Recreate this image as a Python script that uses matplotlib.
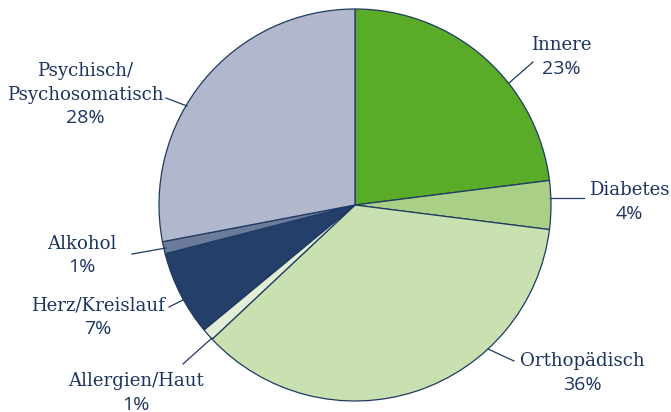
import matplotlib
matplotlib.use("Agg")
import matplotlib.pyplot as plt

categories = ["Innere", "Diabetes", "Orthopädisch", "Allergien/Haut",
              "Herz/Kreislauf", "Alkohol", "Psychisch/\nPsychosomatisch"]
values = [23, 4, 36, 1, 7, 1, 28]
pct_labels = ["23%", "4%", "36%", "1%", "7%", "1%", "28%"]
colors = ["#5aab27", "#aacf87", "#c9e0b0", "#e2efd6", "#233f6a", "#6b7b99", "#b1b7cc"]

W, H = 671, 412
fig = plt.figure(figsize=(W / 100, H / 100), dpi=100)
ax = fig.add_axes([0, 0, 1, 1])

navy = "#1b3460"
edge = "#1f3a63"

cx, cy, r = 355, 205, 196
# y axis inverted -> counterclock=True gives visual clockwise order
ax.pie(values, colors=colors, startangle=-90, counterclock=True,
       center=(cx, cy), radius=r, frame=True,
       wedgeprops=dict(edgecolor=edge, linewidth=0.9))
ax.set_xlim(0, W)
ax.set_ylim(H, 0)
ax.set_aspect("auto")
ax.axis("off")

# label layout: (x center, first line y, leader line start, leader line end)
layout = [
    (561, 45, (509, 83), (533, 62)),
    (629, 190, (550, 198), (584, 198)),
    (582, 361, (488, 349), (514, 361)),
    (136, 381, (212, 338), (183, 364)),
    (98, 305, (183, 300), (169, 307)),
    (82, 244, (166, 248), (132, 254)),
    (85, 71, (187, 106), (166, 98)),
]

serif = ["DejaVu Serif"]
sans = ["Open Sans", "DejaVu Sans"]
lh = 23.5
for cat, pct, (x, y, p0, p1) in zip(categories, pct_labels, layout):
    lines = cat.split("\n")
    for i, ln in enumerate(lines):
        ax.text(x, y + i * lh, ln, ha="center", va="center", fontsize=13.1,
                family=serif, color=navy)
    ax.text(x, y + len(lines) * lh, pct, ha="center", va="center", fontsize=14,
            family=sans, color=navy)
    ax.plot([p0[0], p1[0]], [p0[1], p1[1]], color=edge, lw=0.9)

fig.savefig("out.png", dpi=100)
